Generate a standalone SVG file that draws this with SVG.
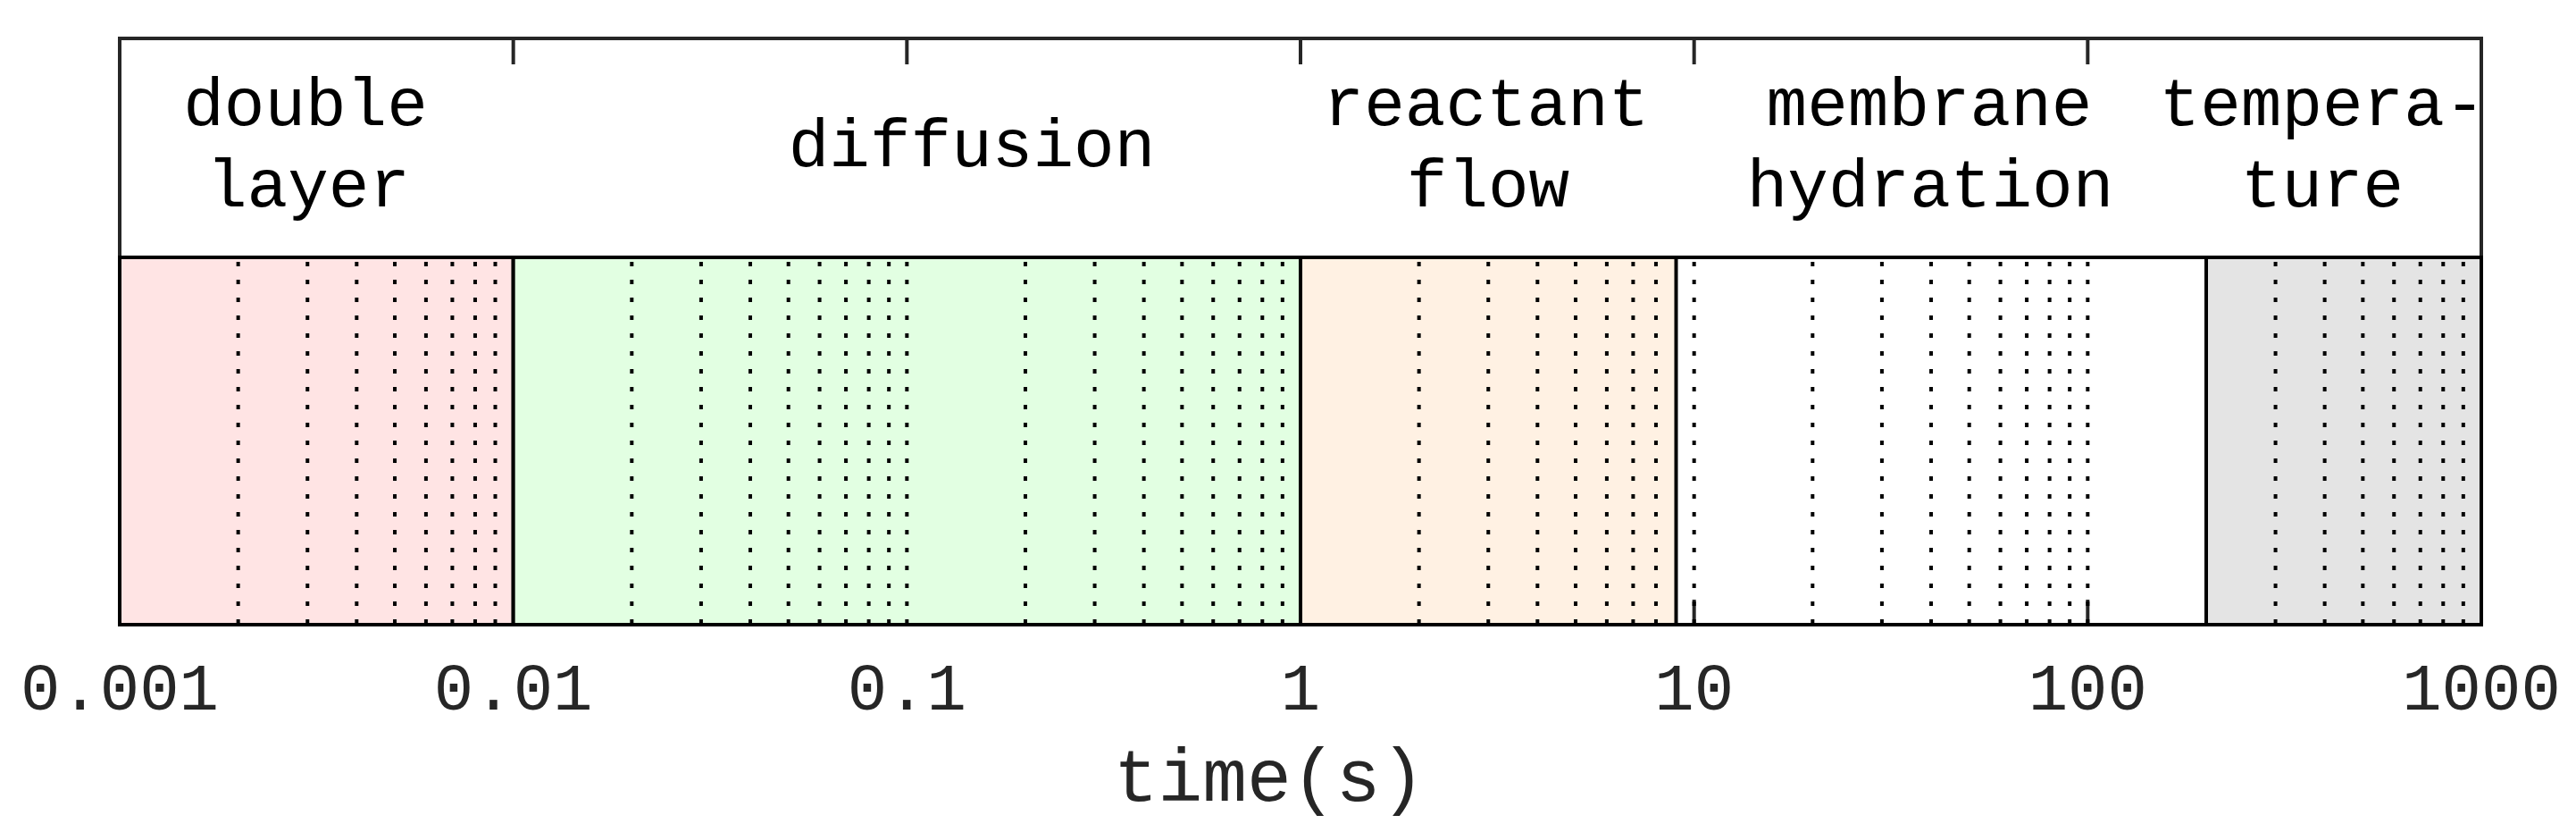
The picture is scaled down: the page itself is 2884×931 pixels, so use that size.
<svg xmlns="http://www.w3.org/2000/svg" width="2884" height="931" viewBox="0 0 2884 931">
<style>
.hdr{font-family:"Liberation Mono","Courier New",monospace;font-size:76px;fill:#000;text-anchor:middle}
.tick{font-family:"Liberation Mono","Courier New",monospace;font-size:74px;fill:#262626;text-anchor:middle}
.lbl{font-family:"Liberation Mono","Courier New",monospace;font-size:83px;fill:#262626;text-anchor:middle}
.patch{stroke:#000;stroke-width:4}
.grid{fill:none;stroke:#000;stroke-width:4;stroke-dasharray:5 15}
.tk{stroke:#262626;stroke-width:4}
</style>
<rect x="0" y="0" width="2884" height="931" fill="#fff"/>
<g id="header">
  <rect x="134" y="43" width="2644" height="245" fill="#fff" stroke="#262626" stroke-width="4"/>
  <path class="tk" d="M574.67 45V72M1015.33 45V72M1456 45V72M1896.67 45V72M2337.33 45V72"/>
</g>
<g id="double-layer">
  <rect class="patch" x="134" y="288" width="440.67" height="411" fill="#ffe4e4"/>
  <text class="hdr" x="342" y="140">double</text>
  <text class="hdr" x="345" y="231">layer</text>
</g>
<g id="diffusion">
  <rect class="patch" x="574.67" y="288" width="881.33" height="411" fill="#e2ffe2"/>
  <text class="hdr" x="1088" y="186">diffusion</text>
</g>
<g id="reactant-flow">
  <rect class="patch" x="1456" y="288" width="420.5" height="411" fill="#fff1e3"/>
  <text class="hdr" x="1664" y="140">reactant</text>
  <text class="hdr" x="1666" y="231">flow</text>
</g>
<g id="membrane-hydration">
  <text class="hdr" x="2160" y="140">membrane</text>
  <text class="hdr" x="2161" y="231">hydration</text>
</g>
<g id="temperature">
  <rect class="patch" x="2470" y="288" width="308" height="411" fill="#e4e4e4"/>
  <text class="hdr" x="2600" y="140">tempera-</text>
  <text class="hdr" x="2600" y="231">ture</text>
</g>
<g id="connectors">
  <path class="tk" d="M1896.67 697V671M2337.33 697V671"/>
  <path class="grid" d="M266.65 293V699M344.25 293V699M399.31 293V699M442.02 293V699M476.91 293V699M506.41 293V699M531.96 293V699M554.5 293V699
M707.32 293V699M784.92 293V699M839.98 293V699M882.69 293V699M917.58 293V699M947.08 293V699M972.63 293V699M995.17 293V699
M1015.33 293V699M1147.98 293V699M1225.58 293V699M1280.64 293V699M1323.35 293V699M1358.24 293V699M1387.74 293V699M1413.29 293V699M1435.83 293V699
M1588.65 293V699M1666.25 293V699M1721.31 293V699M1764.02 293V699M1798.91 293V699M1828.41 293V699M1853.96 293V699
M1896.67 293V699M2029.32 293V699M2106.92 293V699M2161.98 293V699M2204.69 293V699M2239.58 293V699M2269.08 293V699M2294.63 293V699M2317.17 293V699
M2337.33 293V699M2547.58 293V699M2602.64 293V699M2645.35 293V699M2680.24 293V699M2709.74 293V699M2735.29 293V699M2757.83 293V699"/>
  <rect x="134" y="288" width="2644" height="411" fill="none" stroke="#000" stroke-width="4"/>
</g>
<g id="axis-labels">
  <text class="tick" x="134" y="794">0.001</text>
  <text class="tick" x="574.67" y="794">0.01</text>
  <text class="tick" x="1015.33" y="794">0.1</text>
  <text class="tick" x="1456" y="794">1</text>
  <text class="tick" x="1896.67" y="794">10</text>
  <text class="tick" x="2337.33" y="794">100</text>
  <text class="tick" x="2778" y="794">1000</text>
  <text class="lbl" x="1421" y="896">time(s)</text>
</g>
</svg>
